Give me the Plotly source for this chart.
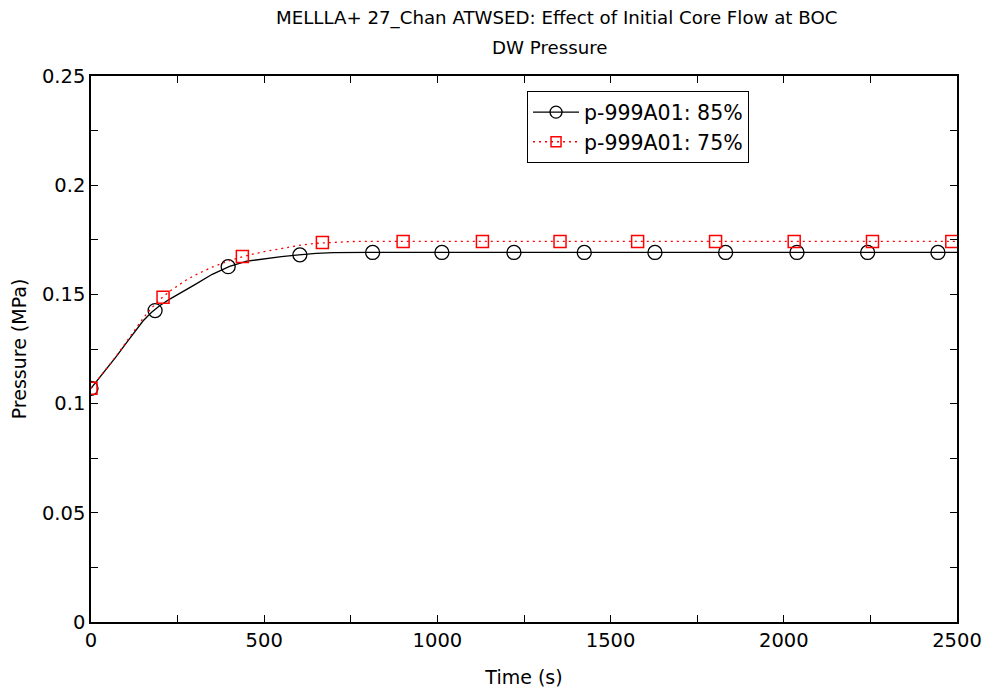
import plotly.graph_objects as go

# ---- data ----
t_85 = [0, 25, 50, 75, 100, 125, 150, 175, 200, 225, 250, 275, 300, 350, 400, 450,
        500, 550, 600, 650, 700, 750, 800, 1000, 1500, 2000, 2500]
p_85 = [0.1070, 0.1119, 0.1168, 0.1220, 0.1274, 0.1328, 0.1378, 0.1418, 0.1450,
        0.1476, 0.1498, 0.1520, 0.1545, 0.1592, 0.1628, 0.1652, 0.1664, 0.1673,
        0.1681, 0.1688, 0.1691, 0.1692, 0.1692, 0.1692, 0.1692, 0.1692, 0.1692]

t_75 = [0, 25, 50, 75, 100, 125, 150, 175, 200, 225, 250, 275, 300, 350, 400, 450,
        500, 550, 600, 650, 700, 750, 800, 1000, 1500, 2000, 2500]
p_75 = [0.1070, 0.1119, 0.1169, 0.1222, 0.1278, 0.1334, 0.1390, 0.1438, 0.1478,
        0.1512, 0.1540, 0.1566, 0.1588, 0.1625, 0.1655, 0.1678, 0.1696, 0.1710,
        0.1724, 0.1734, 0.1739, 0.1742, 0.1743, 0.1743, 0.1743, 0.1743, 0.1743]

mk_t_85 = [0, 185, 396, 603, 813, 1013, 1221, 1424, 1628, 1832, 2038, 2242, 2445]
mk_p_85 = [0.1070, 0.1426, 0.1627, 0.1681, 0.1692, 0.1692, 0.1692, 0.1692, 0.1692,
           0.1692, 0.1692, 0.1692, 0.1692]
mk_t_75 = [0, 208, 437, 668, 901, 1130, 1354, 1578, 1803, 2030, 2256, 2485]
mk_p_75 = [0.1070, 0.1487, 0.1674, 0.1738, 0.1742, 0.1742, 0.1742, 0.1742, 0.1742,
           0.1742, 0.1742, 0.1742]

names = ["p-999A01: 85%", "p-999A01: 75%"]
title_lines = ["MELLLA+ 27_Chan ATWSED: Effect of Initial Core Flow at BOC", "DW Pressure"]

FONT = "DejaVu Sans"
BLACK = "#000000"
RED = "#ff0000"

fig = go.Figure()

fig.add_trace(go.Scatter(x=t_85, y=p_85, mode="lines", line=dict(color=BLACK, width=1.3),
                         showlegend=False, hoverinfo="skip"))
fig.add_trace(go.Scatter(x=mk_t_85, y=mk_p_85, mode="markers",
                         marker=dict(symbol="circle-open", size=14, color=BLACK,
                                     line=dict(width=1.3, color=BLACK)),
                         showlegend=False))
fig.add_trace(go.Scatter(x=t_75, y=p_75, mode="lines",
                         line=dict(color=RED, width=1.3, dash="2px,4px"),
                         showlegend=False, hoverinfo="skip"))
fig.add_trace(go.Scatter(x=mk_t_75, y=mk_p_75, mode="markers",
                         marker=dict(symbol="square-open", size=12, color=RED,
                                     line=dict(width=1.5, color=RED)),
                         showlegend=False))

fig.add_trace(go.Scatter(x=[None], y=[None], mode="lines+markers", name=names[0],
                         line=dict(color=BLACK, width=1.3),
                         marker=dict(symbol="circle-open", size=12, color=BLACK,
                                     line=dict(width=1.3, color=BLACK))))
fig.add_trace(go.Scatter(x=[None], y=[None], mode="lines+markers", name=names[1],
                         line=dict(color=RED, width=1.3, dash="2px,4px"),
                         marker=dict(symbol="square-open", size=10, color=RED,
                                     line=dict(width=1.5, color=RED))))

axis_common = dict(
    showgrid=False, zeroline=False, showline=True, linecolor=BLACK, linewidth=1.5,
    mirror="allticks", ticks="inside", ticklen=7, tickwidth=1, tickcolor=BLACK,
    tickfont=dict(family=FONT, size=19.5, color=BLACK), automargin=False,
)

fig.update_layout(
    width=988, height=693,
    margin=dict(l=91, r=31, t=76, b=71),
    paper_bgcolor="white", plot_bgcolor="white",
    font=dict(family=FONT, size=19, color=BLACK),
    xaxis=dict(range=[0, 2500], dtick=500, tick0=0,
               minor=dict(dtick=250, ticks="inside", ticklen=7, tickcolor=BLACK),
               title=dict(text="Time (s)", font=dict(family=FONT, size=19), standoff=20),
               **axis_common),
    yaxis=dict(range=[0, 0.25], dtick=0.05, tick0=0,
               minor=dict(dtick=0.025, ticks="inside", ticklen=7, tickcolor=BLACK),
               title=dict(text="Pressure (MPa)", font=dict(family=FONT, size=19), standoff=10),
               **axis_common),
    legend=dict(x=0.5035, y=0.972, xanchor="left", yanchor="top",
                bordercolor=BLACK, borderwidth=1, bgcolor="white",
                font=dict(family=FONT, size=20.5, color=BLACK),
                tracegroupgap=0, itemwidth=46),
    showlegend=True,
)

fig.add_annotation(text=title_lines[0], xref="paper", yref="paper", x=0.538, y=1.0,
                   yshift=58, showarrow=False, xanchor="center", yanchor="middle",
                   font=dict(family=FONT, size=18.2, color=BLACK))
fig.add_annotation(text=title_lines[1], xref="paper", yref="paper", x=0.53, y=1.0,
                   yshift=29, showarrow=False, xanchor="center", yanchor="middle",
                   font=dict(family=FONT, size=18.2, color=BLACK))

fig.write_html("out.html")
